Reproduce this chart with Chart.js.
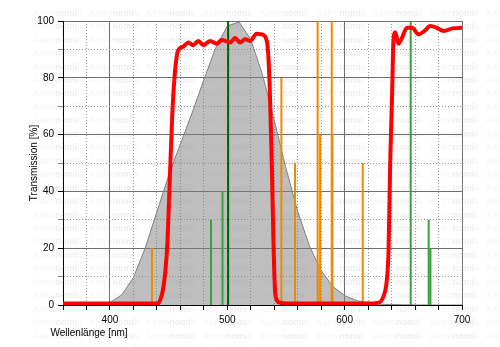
<!DOCTYPE html>
<html>
<head>
<meta charset="utf-8">
<title>Transmission</title>
<script src="https://cdn.jsdelivr.net/npm/chart.js@4.4.1/dist/chart.umd.min.js"></script>
<style>
    body { margin: 0; background: #fff; }
    #myChart { display: block; }
</style>
</head>
<body>
<canvas id="myChart" width="500" height="347"></canvas>
<script>
/*-----------------------------Data-------------------------------------------------*/
// filter transmission curve (red)
const filterNm = [360, 441, 443, 445, 447, 449, 451, 453, 455, 458, 462.5, 466.8, 471, 475.3, 479.6, 485.3, 491, 495.3, 502.4, 506.6, 510.9, 515.2, 519.4, 525.1, 529.4, 533.7, 535.2, 536.5, 537.9, 539.3, 540.7, 542.5, 545, 550,
                  620, 627.5, 633.1, 636, 637.4, 638.8, 640.3, 641.6, 643.1, 645.9, 648.8, 653.1, 657.4, 663, 668, 673, 678.5, 684.3, 692, 700];
const filterT  = [0.5, 0.5, 2, 5, 11, 22, 44, 66, 80, 89.5, 91, 92.4, 91.5, 93, 91.5, 93, 92, 93.3, 92.4, 94, 92.4, 93.6, 93, 95.5, 95.3, 93, 86, 72, 50, 23, 5, 1.5, 0.8, 0.5,
                  0.5, 0.7, 3, 9, 19, 50, 72, 93, 96, 92, 94, 97.6, 97.6, 95.3, 96.5, 98.2, 97.6, 96.5, 97.4, 97.6];

// eye sensitivity (gray area)
const eyeNm = [380, 390, 400, 410, 420, 430, 440, 450, 460, 470, 480, 490, 500, 510, 520, 530, 540, 550, 560, 570, 580, 590, 600, 610, 620, 630, 640, 650, 660, 670, 680, 690, 700];
const eyeT  = [0.06, 0.22, 0.9, 3.5, 9.7, 20, 32.8, 45.5, 56.7, 67.6, 79.3, 90.4, 98.2, 99.7, 93.5, 81.1, 65, 48.1, 32.9, 20.8, 12.1, 6.5, 3.3, 1.6, 0.7, 0.3, 0.15, 0.07, 0.03, 0.01, 0, 0, 0];

// light pollution lines (orange)
const lampNm = [435.8, 546.1, 557.7, 577.0, 579.1, 589.0, 589.6, 615.4];
const lampT  = [20, 80, 50, 100, 60, 100, 60, 50];

// nebula lines (green)
const nebulaNm = [486.1, 495.9, 656.3, 671.6, 673.1];
const nebulaT  = [30, 40, 100, 30, 20];

// OIII main line (dark green)
const oiiiNm = [500.7];
const oiiiT  = [100];

const xTicks = [400, 500, 600, 700];
const yTicks = [0, 20, 40, 60, 80, 100];

/*-----------------------------Helpers-------------------------------------------------*/
function toPoints(xs, ys) {
    return xs.map(function (x, i) { return { x: x, y: ys[i] }; });
}

function spikes(xs, ys, color, width) {
    return xs.map(function (x, i) {
        return {
            data: [{ x: x, y: 0 }, { x: x, y: ys[i] }],
            borderColor: color,
            borderWidth: width,
            pointRadius: 0,
            fill: false,
            order: 2
        };
    });
}

function isMajor(ctx, step) {
    return ctx.tick && Math.round(ctx.tick.value) % step === 0;
}

/*-----------------------------Watermark + x title-------------------------------------------------*/
const decoration = {
    id: 'decoration',
    afterDraw: function (chart) {
        const c = chart.ctx;
        c.save();
        c.font = 'bold 9px "Liberation Sans", Arial, sans-serif';
        c.textBaseline = 'middle';
        const a = 'Astro', b = 'nomi', k = 'k';
        const wa = c.measureText(a).width, wb = c.measureText(b).width;
        for (let y = 13.3; y < 350; y += 13.45) {
            for (let x = 32.3; x < 500; x += 56.7) {
                c.fillStyle = 'rgba(150,150,150,0.08)';
                c.fillText(a, x, y);
                c.fillStyle = 'rgba(150,150,150,0.17)';
                c.fillText(b, x + wa, y);
                c.fillStyle = 'rgba(150,150,150,0.08)';
                c.fillText(k, x + wa + wb, y);
            }
        }
        c.fillStyle = '#000';
        c.font = '10px "Liberation Sans", Arial, sans-serif';
        c.textBaseline = 'middle';
        c.textAlign = 'left';
        c.fillText('Wellenlänge [nm]', 50.5, 333);
        c.restore();
    }
};

/*-----------------------------Chart-------------------------------------------------*/
Chart.defaults.font.family = '"Liberation Sans", Arial, sans-serif';
Chart.defaults.font.size = 10;
Chart.defaults.color = '#000';

let myChart = document.getElementById('myChart').getContext('2d');

let datasets = [];
datasets.push({
    data: toPoints(eyeNm, eyeT),
    borderColor: '#808080',
    borderWidth: 1,
    backgroundColor: 'rgba(128,128,128,0.5)',
    fill: 'origin',
    pointRadius: 0,
    tension: 0,
    order: 3
});
datasets = datasets.concat(spikes(lampNm, lampT, '#ee8a00', 2));
datasets = datasets.concat(spikes(nebulaNm, nebulaT, '#3a9e3a', 2));
datasets = datasets.concat(spikes(oiiiNm, oiiiT, '#006400', 2));
datasets.push({
    data: toPoints(filterNm, filterT),
    borderColor: '#ff0000',
    borderWidth: 4,
    fill: false,
    pointRadius: 0,
    cubicInterpolationMode: 'monotone',
    order: 1
});

let transChart = new Chart(myChart, {
    type: 'line',
    data: { datasets: datasets },
    options: {
        responsive: false,
        animation: false,
        events: [],
        layout: {
            padding: { left: 28, top: 21, right: 38, bottom: 0 }
        },
        plugins: {
            legend: { display: false },
            tooltip: { enabled: false }
        },
        scales: {
            x: {
                type: 'linear',
                min: 360,
                max: 700,
                afterFit: function (scale) { scale.height = 42; },
                ticks: {
                    stepSize: 20,
                    padding: 4,
                    maxRotation: 0,
                    autoSkip: false,
                    callback: function (v) { return xTicks.indexOf(v) >= 0 ? String(v) : ''; }
                },
                grid: {
                    color: function (ctx) { return isMajor(ctx, 100) ? '#6e6e6e' : '#999999'; },
                    borderDash: function (ctx) { return isMajor(ctx, 100) ? [] : [1, 2]; },
                    tickColor: '#000',
                    tickLength: 5
                },
                border: {
                    color: '#000',
                    width: 1,
                    dash: function (ctx) { return isMajor(ctx, 100) ? [] : [1, 2]; }
                }
            },
            y: {
                min: 0,
                max: 100,
                afterFit: function (scale) { scale.width = 35; },
                title: {
                    display: true,
                    text: 'Transmission [%]',
                    font: { size: 10 },
                    padding: 0
                },
                ticks: {
                    stepSize: 10,
                    padding: 4,
                    autoSkip: false,
                    callback: function (v) { return yTicks.indexOf(v) >= 0 ? String(v) : ''; }
                },
                grid: {
                    color: function (ctx) { return isMajor(ctx, 20) ? '#6e6e6e' : '#999999'; },
                    borderDash: function (ctx) { return isMajor(ctx, 20) ? [] : [1, 2]; },
                    tickColor: function (ctx) { return isMajor(ctx, 20) ? '#000' : '#888'; },
                    tickLength: 5
                },
                border: {
                    color: '#000',
                    width: 1,
                    dash: function (ctx) { return isMajor(ctx, 20) ? [] : [1, 2]; }
                }
            }
        }
    },
    plugins: [decoration]
});
</script>
</body>
</html>
